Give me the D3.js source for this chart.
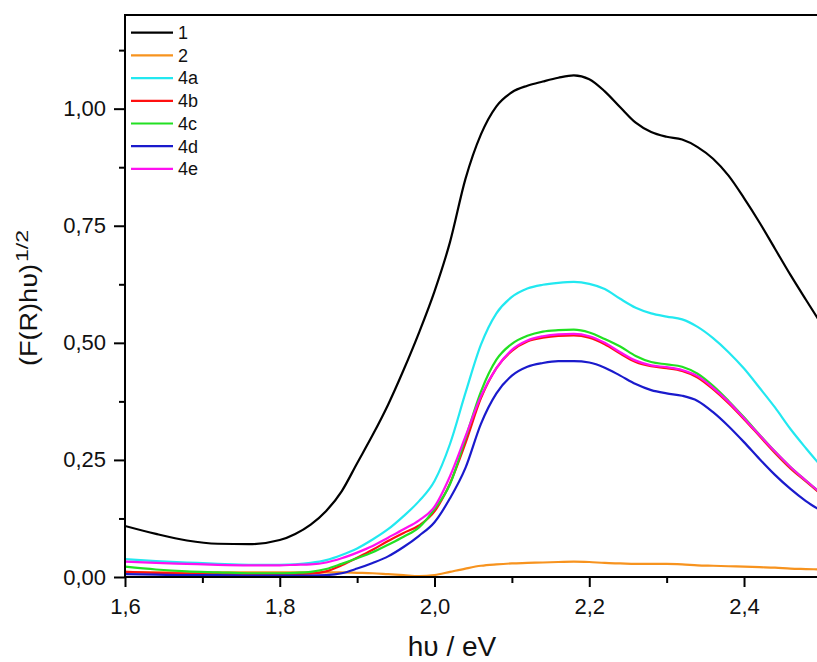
<!DOCTYPE html>
<html>
<head>
<meta charset="utf-8">
<script src="https://cdn.jsdelivr.net/npm/d3@7"></script>
<style>
  html, body { margin: 0; padding: 0; background: #fff; }
  svg { display: block; font-family: "Liberation Sans", Arial, sans-serif; }
</style>
</head>
<body>
<svg id="chart" width="817" height="662"></svg>
<script>
// ---- data ----
const energy = [1.60,1.64,1.68,1.72,1.76,1.80,1.82,1.84,1.86,1.88,1.90,1.92,1.94,1.96,1.98,2.00,2.02,2.04,2.06,2.08,2.10,2.12,2.14,2.16,2.18,2.20,2.22,2.24,2.26,2.28,2.30,2.32,2.34,2.36,2.38,2.40,2.42,2.44,2.46,2.48,2.50];

const s1  = [0.109,0.092,0.078,0.071,0.070,0.079,0.092,0.112,0.141,0.183,0.243,0.303,0.368,0.442,0.522,0.610,0.715,0.850,0.945,1.005,1.035,1.049,1.058,1.066,1.071,1.063,1.037,1.003,0.970,0.950,0.940,0.934,0.918,0.893,0.857,0.809,0.757,0.701,0.645,0.592,0.540];
const s2  = [0.011,0.010,0.010,0.010,0.010,0.010,0.010,0.010,0.010,0.010,0.009,0.008,0.006,0.004,0.002,0.004,0.011,0.018,0.024,0.027,0.029,0.030,0.031,0.032,0.033,0.032,0.030,0.029,0.028,0.028,0.028,0.027,0.025,0.024,0.023,0.022,0.021,0.020,0.018,0.017,0.016];
const s4a = [0.038,0.034,0.031,0.028,0.026,0.026,0.027,0.030,0.036,0.047,0.061,0.080,0.102,0.130,0.162,0.205,0.284,0.393,0.496,0.563,0.598,0.616,0.624,0.628,0.630,0.626,0.615,0.594,0.575,0.563,0.556,0.550,0.534,0.510,0.480,0.445,0.404,0.362,0.316,0.275,0.236];
const s4b = [0.011,0.009,0.007,0.006,0.006,0.006,0.006,0.007,0.012,0.025,0.041,0.058,0.077,0.094,0.110,0.140,0.200,0.286,0.382,0.446,0.483,0.503,0.511,0.515,0.516,0.511,0.497,0.477,0.459,0.450,0.446,0.440,0.426,0.401,0.371,0.337,0.301,0.265,0.232,0.204,0.176];
const s4c = [0.022,0.016,0.012,0.010,0.008,0.008,0.009,0.011,0.017,0.028,0.040,0.053,0.069,0.086,0.106,0.145,0.198,0.296,0.396,0.464,0.498,0.515,0.524,0.527,0.528,0.522,0.508,0.492,0.472,0.459,0.454,0.449,0.434,0.408,0.376,0.341,0.304,0.268,0.235,0.206,0.178];
const s4d = [0.006,0.005,0.004,0.004,0.003,0.003,0.003,0.003,0.004,0.008,0.018,0.030,0.044,0.064,0.088,0.117,0.168,0.233,0.327,0.392,0.430,0.449,0.457,0.461,0.461,0.458,0.447,0.430,0.412,0.399,0.392,0.387,0.376,0.352,0.322,0.288,0.252,0.218,0.188,0.162,0.141];
const s4e = [0.033,0.030,0.028,0.026,0.025,0.025,0.026,0.027,0.031,0.040,0.052,0.066,0.084,0.102,0.121,0.150,0.215,0.300,0.386,0.446,0.485,0.505,0.514,0.518,0.519,0.514,0.500,0.480,0.462,0.452,0.448,0.442,0.429,0.404,0.374,0.339,0.303,0.268,0.235,0.206,0.178];

const seriesNames  = ["1","2","4a","4b","4c","4d","4e"];
const seriesValues = [s1, s2, s4a, s4b, s4c, s4d, s4e];
const seriesColors = ["#000000","#f7931e","#22e8f0","#ff1010","#22e022","#1a1acc","#ff10f0"];

const xMajorTicks = [1.6,1.8,2.0,2.2,2.4];
const xMinorTicks = [1.7,1.9,2.1,2.3,2.5];
const yMajorTicks = [0,0.25,0.5,0.75,1.0];
const yMinorTicks = [0.125,0.375,0.625,0.875,1.125];

// ---- layout ----
const svg = d3.select("#chart");
const pLeft = 125, pTop = 15, pBottom = 577;
const x = d3.scaleLinear().domain([1.6, 2.5]).range([pLeft, 821.4]);
const y = d3.scaleLinear().domain([0, 1.2]).range([pBottom, pTop]);
const fmtX = v => d3.format(".1f")(v).replace(".", ",");
const fmtY = v => d3.format(".2f")(v).replace(".", ",");

svg.append("defs").append("clipPath").attr("id","clip")
  .append("rect").attr("x", pLeft).attr("y", pTop).attr("width", 900).attr("height", pBottom - pTop);

// lines
const line = d3.line().x((d,i) => x(energy[i])).y(d => y(d)).curve(d3.curveMonotoneX);
const gLines = svg.append("g").attr("clip-path","url(#clip)");
seriesValues.forEach((vals, k) => {
  gLines.append("path").datum(vals)
    .attr("d", line)
    .attr("fill","none")
    .attr("stroke", seriesColors[k])
    .attr("stroke-width", 2.2)
    .attr("stroke-linejoin","round");
});

// axes
const xAxis = svg.append("g").attr("transform", `translate(0,${pBottom})`)
  .call(d3.axisBottom(x).tickValues(xMajorTicks).tickSize(10).tickPadding(11).tickFormat(fmtX));
const xAxisMinor = svg.append("g").attr("transform", `translate(0,${pBottom})`)
  .call(d3.axisBottom(x).tickValues(xMinorTicks).tickSize(6).tickFormat(""));
const yAxis = svg.append("g").attr("transform", `translate(${pLeft},0)`)
  .call(d3.axisLeft(y).tickValues(yMajorTicks).tickSize(11).tickPadding(8).tickFormat(fmtY));
const yAxisMinor = svg.append("g").attr("transform", `translate(${pLeft},0)`)
  .call(d3.axisLeft(y).tickValues(yMinorTicks).tickSize(6).tickFormat(""));

[xAxis, xAxisMinor, yAxis, yAxisMinor].forEach(g => {
  g.select(".domain").remove();
  g.selectAll(".tick line").attr("stroke","#000").attr("stroke-width",2);
  g.selectAll(".tick text").attr("font-size", 22).attr("fill","#111")
    .attr("font-family", '"Liberation Sans", Arial, sans-serif');
});

// frame
svg.append("line").attr("x1", pLeft).attr("x2", pLeft).attr("y1", pTop - 1).attr("y2", pBottom + 1)
  .attr("stroke","#000").attr("stroke-width",2);
svg.append("line").attr("x1", pLeft - 1).attr("x2", 830).attr("y1", pBottom).attr("y2", pBottom)
  .attr("stroke","#000").attr("stroke-width",2);
svg.append("line").attr("x1", pLeft - 1).attr("x2", 830).attr("y1", pTop).attr("y2", pTop)
  .attr("stroke","#000").attr("stroke-width",2);

// axis titles
svg.append("text").attr("x", 452).attr("y", 656).attr("text-anchor","middle")
  .attr("font-size", 28).attr("fill","#111").text("hυ / eV");

svg.append("text").attr("transform","translate(37,366) rotate(-90)")
  .attr("text-anchor","start").attr("font-size", 23).attr("fill","#111")
  .attr("textLength", 102).attr("lengthAdjust","spacingAndGlyphs")
  .text("(F(R)hυ)");
svg.append("text").attr("transform","translate(28,262) rotate(-90)")
  .attr("text-anchor","start").attr("font-size", 16).attr("fill","#111")
  .attr("textLength", 32).attr("lengthAdjust","spacingAndGlyphs")
  .text("1/2");

// legend
const legend = svg.append("g");
seriesNames.forEach((name, k) => {
  const ly = 32.7 + k * 22.7;
  legend.append("line").attr("x1", 131).attr("x2", 173).attr("y1", ly).attr("y2", ly)
    .attr("stroke", seriesColors[k]).attr("stroke-width", 2.2);
  legend.append("text").attr("x", 178).attr("y", ly).attr("dy","0.35em")
    .attr("font-size", 18).attr("fill","#111").text(name);
});
</script>
</body>
</html>
